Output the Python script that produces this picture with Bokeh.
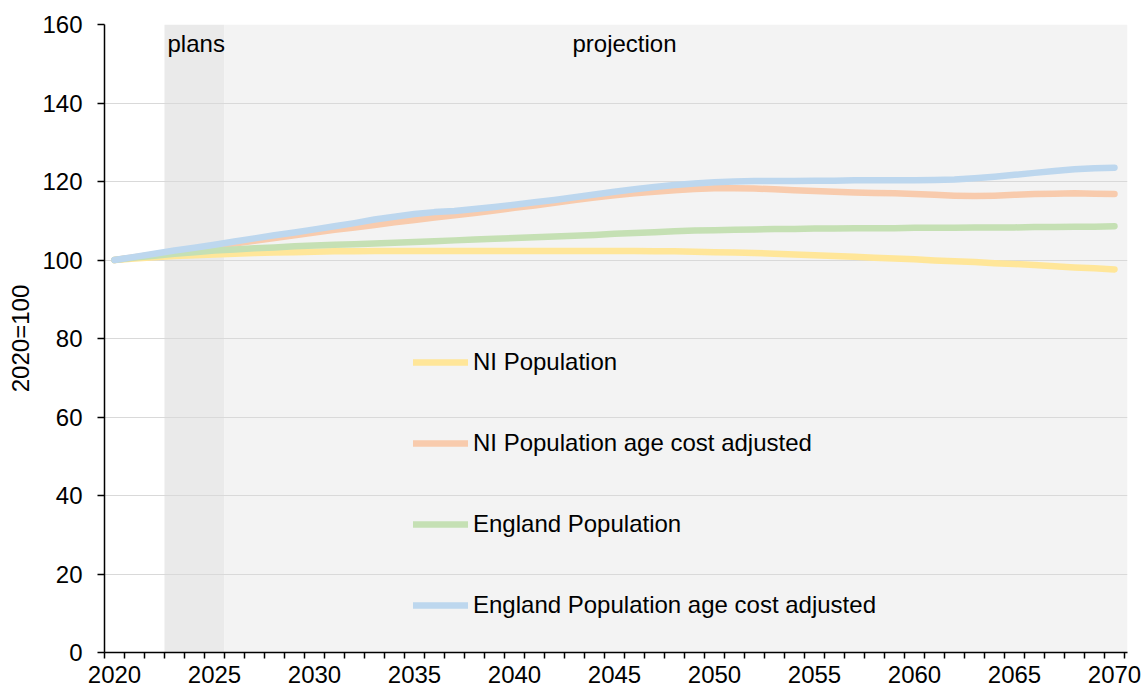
from bokeh.plotting import figure
from bokeh.models import (Range1d, FixedTicker, Legend, LegendItem, BoxAnnotation, Label)
from bokeh.embed import file_html
from bokeh.resources import INLINE

years = list(range(2020, 2071))

ni_population = [
    100.0, 100.4, 100.7, 101.0, 101.2, 101.4, 101.6, 101.8, 101.9, 102.0,
    102.1, 102.2, 102.2, 102.3, 102.3, 102.3, 102.3, 102.3, 102.3, 102.3,
    102.3, 102.3, 102.3, 102.3, 102.3, 102.3, 102.3, 102.2, 102.2, 102.1,
    102.0, 101.9, 101.8, 101.6, 101.4, 101.2, 101.0, 100.8, 100.6, 100.4,
    100.2, 99.9, 99.7, 99.5, 99.2, 99.0, 98.7, 98.4, 98.1, 97.9,
    97.6,
]
ni_age_adjusted = [
    100.0, 100.7, 101.4, 102.1, 102.8, 103.5, 104.2, 104.9, 105.6, 106.3,
    107.0, 107.7, 108.3, 108.9, 109.6, 110.2, 110.8, 111.4, 112.0, 112.6,
    113.3, 113.9, 114.6, 115.3, 115.9, 116.5, 117.0, 117.4, 117.8, 118.1,
    118.3, 118.3, 118.2, 118.0, 117.8, 117.6, 117.4, 117.2, 117.1, 117.0,
    116.8, 116.6, 116.4, 116.3, 116.4, 116.6, 116.8, 116.9, 117.0, 116.9,
    116.8,
]
eng_population = [
    100.0, 100.6, 101.1, 101.6, 102.0, 102.4, 102.7, 103.0, 103.2, 103.5,
    103.7, 103.9, 104.0, 104.2, 104.4, 104.6, 104.8, 105.0, 105.2, 105.4,
    105.6, 105.8, 106.0, 106.2, 106.4, 106.7, 106.9, 107.1, 107.3, 107.5,
    107.6, 107.7, 107.8, 107.9, 107.9, 108.0, 108.0, 108.1, 108.1, 108.1,
    108.2, 108.2, 108.2, 108.3, 108.3, 108.3, 108.4, 108.4, 108.5, 108.5,
    108.6,
]
eng_age_adjusted = [
    100.0, 100.8, 101.6, 102.4, 103.1, 103.9, 104.7, 105.5, 106.3, 107.0,
    107.8, 108.6, 109.4, 110.3, 111.0, 111.7, 112.2, 112.5, 113.0, 113.5,
    114.1, 114.7, 115.3, 116.0, 116.7, 117.4, 118.0, 118.6, 119.1, 119.5,
    119.8, 120.0, 120.1, 120.1, 120.1, 120.2, 120.2, 120.3, 120.3, 120.3,
    120.3, 120.4, 120.5, 120.8, 121.2, 121.7, 122.2, 122.7, 123.1, 123.4,
    123.5,
]

series_names = ["NI Population", "NI Population age cost adjusted",
                "England Population", "England Population age cost adjusted"]
series_values = [ni_population, ni_age_adjusted, eng_population, eng_age_adjusted]
series_colors = ["#ffe699", "#f8cbad", "#c5e0b4", "#bdd7ee"]

plans_years = [2023, 2024, 2025]
projection_first_year = 2026
x_tick_labels = [2020, 2025, 2030, 2035, 2040, 2045, 2050, 2055, 2060, 2065, 2070]
y_ticks = [0, 20, 40, 60, 80, 100, 120, 140, 160]

FONT = "Liberation Sans"
FS = "24px"

p = figure(width=1143, height=688, output_backend="svg", toolbar_location=None,
           x_range=Range1d(2019.5, 2070.65), y_range=Range1d(0, 160),
           min_border_left=104, min_border_right=16, min_border_top=24, min_border_bottom=36)
p.outline_line_color = None
p.background_fill_color = "white"

# shaded periods
plans_box = BoxAnnotation(left=plans_years[0] - 0.5, right=plans_years[-1] + 0.5,
                          fill_color="#eaeaea", fill_alpha=1, line_color=None, level="image")
proj_box = BoxAnnotation(left=projection_first_year - 0.5,
                         fill_color="#f3f3f3", fill_alpha=1, line_color=None, level="image")
p.add_layout(plans_box)
p.add_layout(proj_box)

p.add_layout(Label(x=plans_years[0] - 0.35, y=155.2, text="plans", text_font=FONT,
                   text_font_size=FS, text_color="#000000", text_baseline="alphabetic"))
p.add_layout(Label(x=2042.9, y=155.2, text="projection", text_font=FONT,
                   text_font_size=FS, text_color="#000000", text_baseline="alphabetic"))

renderers = []
for name, vals, col in zip(series_names, series_values, series_colors):
    r = p.line(years, vals, line_color=col, line_width=6.5, line_cap="round", line_join="round")
    renderers.append((name, r))

legend = Legend(items=[LegendItem(label=n, renderers=[r]) for n, r in renderers],
                location=(309, 33), orientation="vertical",
                glyph_width=55, glyph_height=28, label_height=28, label_standoff=5,
                spacing=53, padding=0, margin=0,
                label_text_font=FONT, label_text_font_size=FS, label_text_color="#000000",
                background_fill_alpha=0, border_line_alpha=0)
p.add_layout(legend)

# grid
p.xgrid.grid_line_color = None
p.ygrid.grid_line_color = "#d9d9d9"
p.ygrid.grid_line_width = 1
p.ygrid.ticker = FixedTicker(ticks=y_ticks)

# x axis
xa = p.xaxis[0]
xa.ticker = FixedTicker(ticks=x_tick_labels, minor_ticks=[y - 0.5 for y in years] + [years[-1] + 0.5])
xa.major_tick_line_color = None
xa.major_tick_out = 0
xa.major_tick_in = 0
xa.minor_tick_line_color = "black"
xa.minor_tick_out = 6
xa.minor_tick_in = 0
xa.minor_tick_line_width = 1.5
xa.axis_line_color = "black"
xa.axis_line_width = 1.5
xa.major_label_standoff = 7
xa.major_label_text_font = FONT
xa.major_label_text_font_size = FS
xa.major_label_text_color = "black"

# y axis
ya = p.yaxis[0]
ya.ticker = FixedTicker(ticks=y_ticks)
ya.minor_tick_line_color = None
ya.major_tick_out = 7
ya.major_tick_in = 0
ya.major_tick_line_color = "black"
ya.major_tick_line_width = 1.5
ya.axis_line_color = "black"
ya.axis_line_width = 1.5
ya.major_label_standoff = 15
ya.major_label_text_font = FONT
ya.major_label_text_font_size = FS
ya.major_label_text_color = "black"
ya.axis_label = "2020=100"
ya.axis_label_text_font = FONT
ya.axis_label_text_font_size = FS
ya.axis_label_text_font_style = "normal"
ya.axis_label_text_color = "black"
ya.axis_label_standoff = 5

open("out.html", "w").write(file_html(p, INLINE))
